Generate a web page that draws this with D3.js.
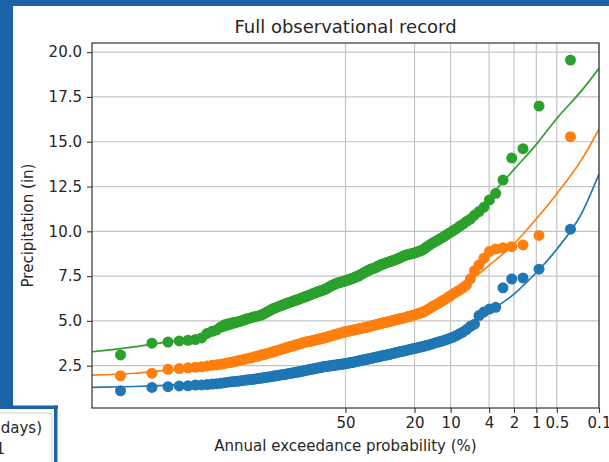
<!DOCTYPE html>
<html>
<head>
<meta charset="utf-8">
<script src="https://cdn.jsdelivr.net/npm/d3@7"></script>
<style>
  body { margin: 0; background: #fff; }
  svg { display: block; font-family: "DejaVu Sans", sans-serif; }
</style>
</head>
<body>
<svg id="chart" width="609" height="462"></svg>
<script>
// annual maxima, sorted ascending (inches), one list per duration
var blueVals = [
  1.10, 1.29, 1.33, 1.37, 1.38, 1.42, 1.43, 1.45, 1.48, 1.49,
  1.52, 1.55, 1.58, 1.60, 1.62, 1.63, 1.66, 1.68, 1.70, 1.71,
  1.73, 1.75, 1.76, 1.78, 1.80, 1.82, 1.84, 1.86, 1.87, 1.89,
  1.91, 1.92, 1.94, 1.96, 1.97, 1.99, 2.00, 2.02, 2.03, 2.05,
  2.07, 2.08, 2.10, 2.11, 2.13, 2.14, 2.16, 2.17, 2.19, 2.21,
  2.22, 2.24, 2.25, 2.27, 2.29, 2.30, 2.32, 2.33, 2.35, 2.36,
  2.38, 2.39, 2.41, 2.42, 2.44, 2.45, 2.46, 2.47, 2.48, 2.49,
  2.50, 2.51, 2.52, 2.53, 2.54, 2.55, 2.56, 2.57, 2.58, 2.59,
  2.60, 2.61, 2.63, 2.64, 2.65, 2.66, 2.68, 2.69, 2.70, 2.72,
  2.73, 2.75, 2.76, 2.78, 2.80, 2.81, 2.83, 2.84, 2.86, 2.87,
  2.89, 2.90, 2.92, 2.94, 2.95, 2.97, 2.99, 3.00, 3.02, 3.04,
  3.05, 3.07, 3.09, 3.10, 3.12, 3.14, 3.16, 3.18, 3.20, 3.22,
  3.24, 3.26, 3.28, 3.30, 3.32, 3.34, 3.36, 3.38, 3.41, 3.43,
  3.45, 3.47, 3.49, 3.52, 3.54, 3.57, 3.60, 3.63, 3.66, 3.69,
  3.73, 3.77, 3.81, 3.85, 3.88, 3.93, 3.98, 4.04, 4.10, 4.18,
  4.28, 4.38, 4.52, 4.70, 4.82, 5.30, 5.50, 5.66, 5.76, 6.85,
  7.34, 7.40, 7.89, 10.12
];
var orangeVals = [
  1.94, 2.08, 2.30, 2.34, 2.38, 2.41, 2.44, 2.48, 2.52, 2.55,
  2.58, 2.62, 2.66, 2.69, 2.73, 2.77, 2.81, 2.84, 2.88, 2.91,
  2.94, 2.98, 3.01, 3.04, 3.08, 3.11, 3.14, 3.17, 3.20, 3.23,
  3.26, 3.29, 3.32, 3.35, 3.38, 3.41, 3.44, 3.47, 3.50, 3.53,
  3.56, 3.58, 3.60, 3.62, 3.65, 3.68, 3.70, 3.73, 3.75, 3.78,
  3.80, 3.82, 3.84, 3.85, 3.87, 3.88, 3.90, 3.92, 3.94, 3.95,
  3.97, 3.99, 4.01, 4.02, 4.04, 4.06, 4.08, 4.10, 4.12, 4.15,
  4.17, 4.19, 4.21, 4.23, 4.25, 4.27, 4.29, 4.31, 4.33, 4.35,
  4.37, 4.39, 4.40, 4.42, 4.43, 4.45, 4.46, 4.48, 4.49, 4.51,
  4.52, 4.54, 4.55, 4.57, 4.58, 4.60, 4.62, 4.63, 4.65, 4.66,
  4.68, 4.70, 4.72, 4.74, 4.76, 4.78, 4.80, 4.82, 4.84, 4.86,
  4.88, 4.90, 4.92, 4.93, 4.95, 4.97, 4.99, 5.01, 5.04, 5.06,
  5.08, 5.10, 5.12, 5.14, 5.16, 5.18, 5.21, 5.24, 5.26, 5.29,
  5.32, 5.35, 5.38, 5.41, 5.45, 5.48, 5.54, 5.60, 5.67, 5.74,
  5.82, 5.88, 5.95, 6.03, 6.12, 6.20, 6.30, 6.40, 6.52, 6.62,
  6.72, 6.85, 7.00, 7.35, 7.80, 8.12, 8.50, 8.88, 9.02, 9.08,
  9.14, 9.24, 9.77, 15.28
];
var greenVals = [
  3.10, 3.76, 3.82, 3.88, 3.92, 3.96, 4.05, 4.30, 4.42, 4.50,
  4.66, 4.78, 4.84, 4.88, 4.92, 4.96, 5.00, 5.05, 5.10, 5.14,
  5.18, 5.22, 5.25, 5.28, 5.31, 5.35, 5.42, 5.48, 5.54, 5.60,
  5.66, 5.70, 5.74, 5.78, 5.82, 5.86, 5.90, 5.93, 5.97, 6.00,
  6.03, 6.06, 6.09, 6.12, 6.15, 6.18, 6.21, 6.24, 6.27, 6.30,
  6.33, 6.36, 6.39, 6.42, 6.45, 6.48, 6.51, 6.54, 6.57, 6.60,
  6.63, 6.65, 6.68, 6.70, 6.73, 6.75, 6.79, 6.83, 6.87, 6.91,
  6.95, 6.99, 7.02, 7.05, 7.08, 7.11, 7.13, 7.15, 7.17, 7.19,
  7.21, 7.23, 7.25, 7.28, 7.30, 7.32, 7.35, 7.38, 7.40, 7.43,
  7.46, 7.49, 7.52, 7.56, 7.60, 7.64, 7.68, 7.72, 7.76, 7.80,
  7.84, 7.87, 7.90, 7.92, 7.95, 7.98, 8.02, 8.06, 8.10, 8.13,
  8.16, 8.19, 8.22, 8.25, 8.28, 8.30, 8.33, 8.36, 8.39, 8.42,
  8.45, 8.49, 8.53, 8.57, 8.61, 8.65, 8.68, 8.71, 8.73, 8.75,
  8.77, 8.80, 8.84, 8.88, 8.92, 8.96, 9.04, 9.12, 9.20, 9.28,
  9.36, 9.42, 9.50, 9.58, 9.66, 9.75, 9.84, 9.94, 10.04, 10.15,
  10.28, 10.40, 10.55, 10.68, 10.90, 11.10, 11.35, 11.75, 12.12, 12.86,
  14.09, 14.61, 16.99, 19.56
];

// fitted frequency curves, read at these exceedance probabilities (%)
var fitProbs  = [99.9, 99.5, 99, 98, 95, 90, 80, 70, 50, 30, 20, 10, 5, 4, 2, 1, 0.5, 0.2, 0.1];
var blueFit   = [1.29, 1.34, 1.38, 1.44, 1.57, 1.72, 1.92, 2.10, 2.50, 2.95, 3.35, 4.10, 5.15, 5.50, 6.50, 7.70, 9.00, 11.0, 13.2];
var orangeFit = [1.98, 2.08, 2.18, 2.30, 2.52, 2.80, 3.25, 3.70, 4.40, 5.00, 5.40, 6.50, 7.70, 8.10, 9.30, 10.7, 12.1, 14.0, 15.7];
var greenFit  = [3.28, 3.55, 3.72, 3.90, 4.25, 4.72, 5.50, 6.15, 7.15, 8.10, 8.75, 9.90, 11.35, 11.9, 13.45, 14.85, 16.3, 17.85, 19.1];

var xTicks = [50, 20, 10, 4, 2, 1, 0.5, 0.1];
var yTicks = [2.5, 5.0, 7.5, 10.0, 12.5, 15.0, 17.5, 20.0];

var colors = ["#1f77b4", "#ff7f0e", "#2ca02c"];

// inverse standard normal cdf (Acklam)
function qnorm(p) {
    var a = [-3.969683028665376e+01, 2.209460984245205e+02, -2.759285104469687e+02, 1.383577518672690e+02, -3.066479806614716e+01, 2.506628277459239e+00];
    var b = [-5.447609879822406e+01, 1.615858368580409e+02, -1.556989798598866e+02, 6.680131188771972e+01, -1.328068155288572e+01];
    var c = [-7.784894002430293e-03, -3.223964580411365e-01, -2.400758277161838e+00, -2.549732539343734e+00, 4.374664141464968e+00, 2.938163982698783e+00];
    var d = [7.784695709041462e-03, 3.224671290700398e-01, 2.445134137142996e+00, 3.754408661907416e+00];
    var q, r;
    if (p < 0.02425) {
        q = Math.sqrt(-2 * Math.log(p));
        return (((((c[0]*q+c[1])*q+c[2])*q+c[3])*q+c[4])*q+c[5]) / ((((d[0]*q+d[1])*q+d[2])*q+d[3])*q+1);
    }
    if (p > 1 - 0.02425) {
        q = Math.sqrt(-2 * Math.log(1 - p));
        return -(((((c[0]*q+c[1])*q+c[2])*q+c[3])*q+c[4])*q+c[5]) / ((((d[0]*q+d[1])*q+d[2])*q+d[3])*q+1);
    }
    q = p - 0.5; r = q * q;
    return (((((a[0]*r+a[1])*r+a[2])*r+a[3])*r+a[4])*r+a[5])*q / (((((b[0]*r+b[1])*r+b[2])*r+b[3])*r+b[4])*r+1);
}
// exceedance % -> normal variate
function zOf(pct) { return qnorm(1 - pct / 100); }

var plotL = 92, plotR = 599, plotT = 43, plotB = 408;
var svg = d3.select("#chart");

var x = d3.scaleLinear().domain([zOf(99.9), zOf(0.1)]).range([plotL, plotR]);
var y = d3.scaleLinear().domain([0.14, 20.51]).range([plotB, plotT]);

svg.append("defs").append("clipPath").attr("id", "plotclip")
    .append("rect").attr("x", plotL).attr("y", plotT)
    .attr("width", plotR - plotL).attr("height", plotB - plotT);

// grid
var grid = svg.append("g");
grid.selectAll(".gx").data(xTicks).enter().append("line")
    .attr("x1", function(d){ return x(zOf(d)); }).attr("x2", function(d){ return x(zOf(d)); })
    .attr("y1", plotT).attr("y2", plotB)
    .attr("stroke", "#c4c4c4").attr("stroke-width", 1.2);
grid.selectAll(".gy").data(yTicks).enter().append("line")
    .attr("x1", plotL).attr("x2", plotR)
    .attr("y1", function(d){ return y(d); }).attr("y2", function(d){ return y(d); })
    .attr("stroke", "#c4c4c4").attr("stroke-width", 1.2);

// series
var series = [blueVals, orangeVals, greenVals];
var fits = [blueFit, orangeFit, greenFit];
var plot = svg.append("g").attr("clip-path", "url(#plotclip)");
var line = d3.line()
    .x(function(d){ return x(zOf(d[0])); })
    .y(function(d){ return y(d[1]); })
    .curve(d3.curveMonotoneX);

series.forEach(function(vals, si){
    var n = vals.length;
    plot.append("g").selectAll("circle").data(vals).enter().append("circle")
        .attr("cx", function(d, i){ return x(qnorm((i + 0.5) / n)); })
        .attr("cy", function(d){ return y(d); })
        .attr("r", 5.5)
        .attr("fill", colors[si]);
    plot.append("path")
        .datum(fitProbs.map(function(p, i){ return [p, fits[si][i]]; }))
        .attr("d", line)
        .attr("fill", "none")
        .attr("stroke", colors[si])
        .attr("stroke-width", 1.7);
});

// axes
var xAxis = d3.axisBottom(x)
    .tickValues(xTicks.map(zOf))
    .tickFormat(function(d, i){ return String(xTicks[i]); })
    .tickSize(5).tickPadding(4);
var yAxis = d3.axisLeft(y)
    .tickValues(yTicks)
    .tickFormat(d3.format(".1f"))
    .tickSize(5).tickPadding(5);

var gx = svg.append("g").attr("transform", "translate(0," + plotB + ")").call(xAxis);
var gy = svg.append("g").attr("transform", "translate(" + plotL + ",0)").call(yAxis);
[gx, gy].forEach(function(g){
    g.select(".domain").remove();
    g.selectAll("line").attr("stroke", "#333").attr("stroke-width", 1.1);
    g.selectAll("text").attr("fill", "#262626").attr("font-size", 15)
        .attr("font-family", "DejaVu Sans, sans-serif");
});

svg.append("rect")
    .attr("x", plotL).attr("y", plotT)
    .attr("width", plotR - plotL).attr("height", plotB - plotT)
    .attr("fill", "none").attr("stroke", "#333").attr("stroke-width", 1.2);

svg.append("text")
    .attr("x", (plotL + plotR) / 2).attr("y", 33)
    .attr("text-anchor", "middle").attr("font-size", 18).attr("fill", "#262626")
    .text("Full observational record");
svg.append("text")
    .attr("x", (plotL + plotR) / 2).attr("y", 451)
    .attr("text-anchor", "middle").attr("font-size", 15).attr("fill", "#262626")
    .text("Annual exceedance probability (%)");
svg.append("text")
    .attr("transform", "translate(33," + ((plotT + plotB) / 2) + ") rotate(-90)")
    .attr("text-anchor", "middle").attr("font-size", 15).attr("fill", "#262626")
    .text("Precipitation (in)");

// legend of the neighbouring panel, cut off by the frame
var lg = svg.append("g");
lg.append("rect")
    .attr("x", -20).attr("y", 413).attr("width", 72).attr("height", 70).attr("rx", 3)
    .attr("fill", "#fff").attr("stroke", "#d0d0d0").attr("stroke-width", 1);
lg.append("text").attr("x", 42).attr("y", 433).attr("text-anchor", "end")
    .attr("font-size", 15).attr("fill", "#262626").text("Duration (days)");
lg.append("text").attr("x", 5).attr("y", 454).attr("text-anchor", "end")
    .attr("font-size", 15).attr("fill", "#262626").text("1");

// blue screenshot frame
var frame = "#1b62a8";
svg.append("rect").attr("x", 0).attr("y", 0).attr("width", 609).attr("height", 6).attr("fill", frame);
svg.append("rect").attr("x", 0).attr("y", 0).attr("width", 13).attr("height", 409).attr("fill", frame);
svg.append("rect").attr("x", 0).attr("y", 405.5).attr("width", 58).attr("height", 3.5).attr("fill", frame);
svg.append("rect").attr("x", 54).attr("y", 405.5).attr("width", 3.5).attr("height", 57).attr("fill", frame);
</script>
</body>
</html>
